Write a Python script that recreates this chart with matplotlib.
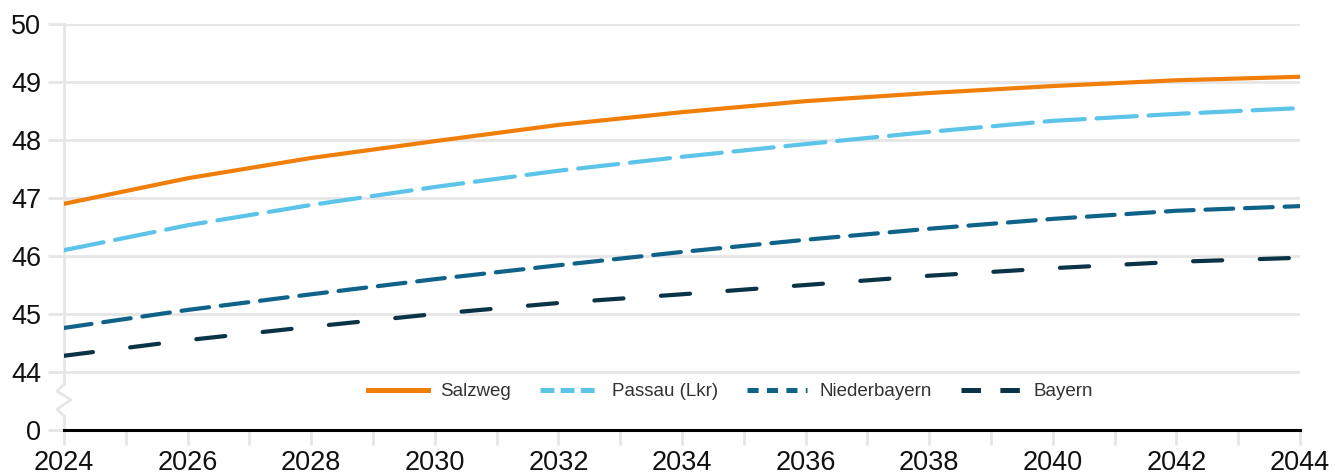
import matplotlib
matplotlib.use('Agg')
from matplotlib import pyplot as plt
from matplotlib.lines import Line2D

plt.rcParams['font.family'] = ['Liberation Sans', 'DejaVu Sans']
plt.rcParams['lines.scale_dashes'] = False

years = list(range(2024, 2045, 2))
salzweg = [46.90, 47.34, 47.69, 47.98, 48.26, 48.48, 48.67, 48.81, 48.93, 49.03, 49.09]
passau = [46.10, 46.53, 46.88, 47.19, 47.47, 47.71, 47.93, 48.14, 48.33, 48.45, 48.55]
niederbayern = [44.76, 45.07, 45.34, 45.60, 45.84, 46.07, 46.28, 46.47, 46.64, 46.78, 46.86]
bayern = [44.28, 44.55, 44.78, 45.00, 45.19, 45.34, 45.50, 45.66, 45.79, 45.90, 45.97]

labels = ['Salzweg', 'Passau (Lkr)', 'Niederbayern', 'Bayern']
colors = ['#f07f0a', '#5bc4e8', '#0f6389', '#0b3346']
dashes = [None, (29, 8.5), (20, 8.5), (21, 27)]
legend_dashes = [None, (10, 4.5), (8, 6), (14, 14)]

# broken axis: 0 is drawn one step below 44
y_ticks = [43, 44, 45, 46, 47, 48, 49, 50]
y_labels = ['0', '44', '45', '46', '47', '48', '49', '50']
grid_col = '#e6e6e6'

fig = plt.figure(figsize=(13.35, 4.76), dpi=100)
ax = fig.add_axes([64 / 1335, 46 / 476, 1236 / 1335, 406 / 476])

for yv in y_ticks[1:]:
    ax.axhline(yv, color=grid_col, lw=2, zorder=0)

series = [salzweg, passau, niederbayern, bayern]
handles = []
for vals, lab, col, d, ld in zip(series, labels, colors, dashes, legend_dashes):
    ln, = ax.plot(years, vals, color=col, lw=3, zorder=3, solid_capstyle='round',
                  dash_capstyle='round', solid_joinstyle='round')
    if d:
        ln.set_dashes(d)
    h = Line2D([], [], color=col, lw=3.6)
    if ld:
        h.set_dashes(ld)
    handles.append(h)

# left axis with zigzag break
x0 = 2024
dx = 0.113
ax.plot([x0, x0], [50, 43.79], color=grid_col, lw=2, zorder=1, clip_on=False)
ax.plot([x0, x0 - dx, x0 + dx, x0 - dx, x0], [43.79, 43.67, 43.52, 43.36, 43.24],
        color=grid_col, lw=2, zorder=1, clip_on=False)
ax.plot([x0, x0], [43.24, 43], color=grid_col, lw=2, zorder=1, clip_on=False)

ax.set_xlim(2024, 2044)
ax.set_ylim(43, 50)
ax.set_xticks(range(2024, 2045))
ax.set_xticklabels([str(y) if y % 2 == 0 else '' for y in range(2024, 2045)])
ax.set_yticks(y_ticks)
ax.set_yticklabels(y_labels)

for s in ['top', 'right', 'left']:
    ax.spines[s].set_visible(False)
ax.spines['bottom'].set_color('black')
ax.spines['bottom'].set_linewidth(2.2)
ax.spines['bottom'].set_zorder(4)

ax.tick_params(axis='x', length=10.5, width=2, color=grid_col, pad=4,
               labelsize=19.5, labelcolor='#111111')
ax.tick_params(axis='y', length=11.5, width=2, color=grid_col, pad=5,
               labelsize=19.5, labelcolor='#111111')

leg = ax.legend(handles, labels, loc='center', bbox_to_anchor=(0.539, 0.094), ncol=4,
                frameon=False, handlelength=3.2, handletextpad=0.65,
                columnspacing=1.55, prop={'size': 13.5})
for t in leg.get_texts():
    t.set_color('#333333')

fig.savefig('out.png', dpi=100)
